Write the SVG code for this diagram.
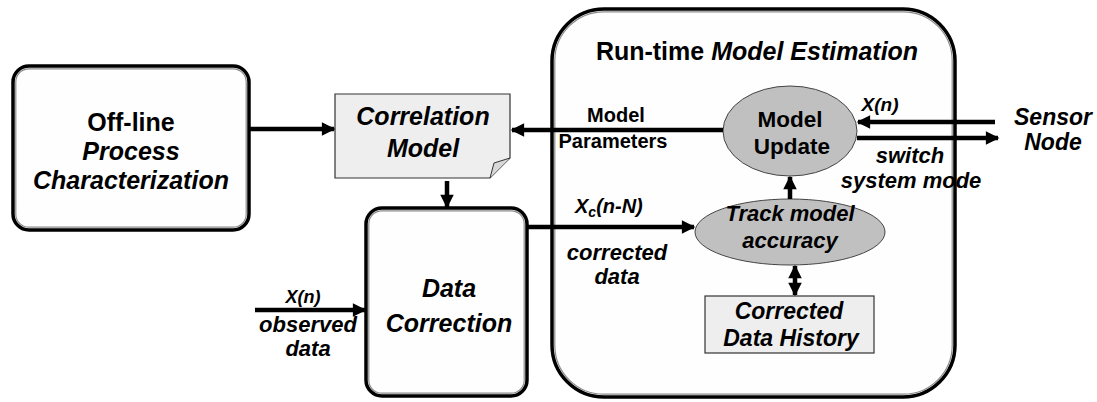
<svg xmlns="http://www.w3.org/2000/svg" width="1097" height="402" viewBox="0 0 1097 402">
  <style>
    text { font-family: "Liberation Sans", Arial, sans-serif; font-weight: bold; fill: #000; text-anchor: middle; }
    .it { font-style: italic; }
    .st { text-anchor: start; }
    .frame { fill: #fefefe; stroke: #000; stroke-width: 3.5; }
    .frame-in { fill: none; stroke: #8a8a8a; stroke-width: 1.2; }
    .oval { fill: #c0c0c0; stroke: #444; stroke-width: 1; }
    .note { fill: #eeeeee; stroke: #333; stroke-width: 1.2; }
    .wire { fill: none; stroke: #000; stroke-width: 4.5; }
  </style>
  <defs>
    <marker id="head" viewBox="0 0 10 10" refX="9" refY="5" markerWidth="3.4" markerHeight="3" orient="auto-start-reverse" markerUnits="strokeWidth">
      <path d="M0,0 L10,5 L0,10 z" fill="#000"/>
    </marker>
  </defs>

  <rect width="1097" height="402" fill="#fff"/>

  <!-- run-time estimation container -->
  <g id="runtime">
    <rect class="frame" x="552" y="9" width="403" height="388" rx="52"/>
    <rect class="frame-in" x="554.8" y="11.8" width="397.4" height="382.4" rx="49"/>
    <text x="757" y="60" font-size="25">Run-time <tspan class="it">Model Estimation</tspan></text>
  </g>

  <!-- off-line characterization -->
  <g id="offline">
    <rect class="frame" x="13" y="66" width="236" height="164" rx="16"/>
    <rect class="frame-in" x="15.8" y="68.8" width="230.4" height="158.4" rx="13"/>
    <text x="131" y="131" font-size="25">Off-line</text>
    <text x="131" y="160" font-size="25" class="it">Process</text>
    <text x="131" y="189" font-size="25" class="it">Characterization</text>
  </g>

  <!-- correlation model document -->
  <g id="correlation">
    <path class="note" d="M335,94 H510 V158 L490,178 H335 Z"/>
    <path d="M490,178 L494,163 L510,158" fill="#d8d8d8" stroke="#333" stroke-width="1"/>
    <text x="423" y="125" font-size="25" class="it">Correlation</text>
    <text x="423" y="157" font-size="25" class="it">Model</text>
  </g>

  <!-- data correction -->
  <g id="correction">
    <rect class="frame" x="366" y="208" width="161" height="188" rx="16"/>
    <rect class="frame-in" x="368.8" y="210.8" width="155.4" height="182.4" rx="13"/>
    <text x="449" y="297" font-size="25" class="it">Data</text>
    <text x="449" y="332" font-size="25" class="it">Correction</text>
  </g>

  <!-- model update -->
  <g id="model-update">
    <ellipse class="oval" cx="790" cy="131" rx="67" ry="45"/>
    <text x="790" y="127" font-size="22.5">Model</text>
    <text x="792" y="154" font-size="22.5">Update</text>
  </g>

  <!-- track model accuracy -->
  <g id="track">
    <ellipse class="oval" cx="790" cy="232" rx="95" ry="33"/>
    <text x="790" y="221" font-size="22" class="it">Track model</text>
    <text x="790" y="248" font-size="22" class="it">accuracy</text>
  </g>

  <!-- corrected data history -->
  <g id="history">
    <rect class="note" x="705" y="296" width="169" height="57"/>
    <text x="789" y="319" font-size="23" class="it">Corrected</text>
    <text x="791" y="346" font-size="23" class="it">Data History</text>
  </g>

  <!-- sensor node -->
  <g id="sensor">
    <text x="1053" y="125" font-size="23" class="it">Sensor</text>
    <text x="1053" y="150" font-size="23" class="it">Node</text>
  </g>

  <!-- connectors -->
  <g id="connectors">
    <line class="wire" x1="249" y1="129" x2="334" y2="129" marker-end="url(#head)"/>
    <line class="wire" x1="723" y1="130" x2="512" y2="130" marker-end="url(#head)"/>
    <line class="wire" x1="447" y1="181" x2="447" y2="207" marker-end="url(#head)"/>
    <line class="wire" x1="995" y1="122" x2="858" y2="122" marker-end="url(#head)"/>
    <line class="wire" x1="857" y1="138" x2="998" y2="138" marker-end="url(#head)"/>
    <line class="wire" x1="790" y1="199" x2="790" y2="177" marker-end="url(#head)"/>
    <line class="wire" x1="527" y1="227" x2="694" y2="227" marker-end="url(#head)"/>
    <line class="wire" x1="795" y1="266" x2="795" y2="295" marker-start="url(#head)" marker-end="url(#head)"/>
    <line class="wire" x1="255" y1="310" x2="365" y2="310" marker-end="url(#head)"/>
  </g>

  <!-- connector labels -->
  <g id="labels">
    <text x="616" y="122" font-size="20">Model</text>
    <text x="613" y="148" font-size="20">Parameters</text>
    <text x="880" y="111" font-size="19" class="it">X(n)</text>
    <text x="910" y="163" font-size="22" class="it">switch</text>
    <text x="911" y="188" font-size="22" class="it">system mode</text>
    <text x="575" y="213" font-size="20" class="it st">X<tspan font-size="14" dy="4">c</tspan><tspan dy="-4">(n-N)</tspan></text>
    <text x="617" y="260" font-size="22" class="it">corrected</text>
    <text x="617" y="284" font-size="22" class="it">data</text>
    <text x="303" y="303" font-size="18" class="it">X(n)</text>
    <text x="308" y="332" font-size="22" class="it">observed</text>
    <text x="308" y="356" font-size="22" class="it">data</text>
  </g>
</svg>
